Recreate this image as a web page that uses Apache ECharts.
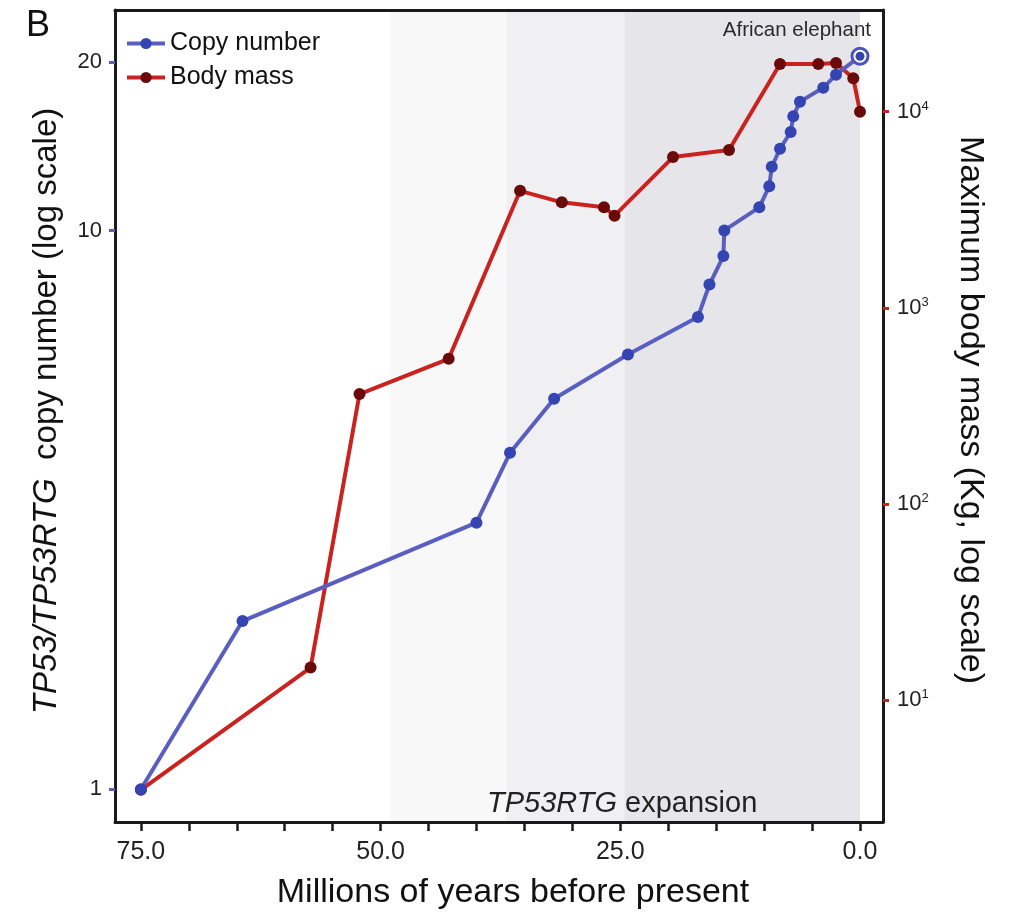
<!DOCTYPE html>
<html>
<head>
<meta charset="utf-8">
<script src="https://cdn.jsdelivr.net/npm/echarts@6/dist/echarts.min.js"></script>
<style>
html,body{margin:0;padding:0;background:#fff;}
#chart{width:1013px;height:922px;}
</style>
</head>
<body>
<div id="chart"></div>
<script>
// ---- data ----
var copyAge = [75, 64.4, 40.0, 36.5, 31.9, 24.2, 16.9, 15.7, 14.25, 14.15, 10.5, 9.46, 9.2, 8.34, 7.23, 6.96, 6.26, 3.83, 2.5, 0];
var copyNum = [1, 2, 3, 4, 5, 6, 7, 8, 9, 10, 11, 12, 13, 14, 15, 16, 17, 18, 19, 20.5];
var massAge = [75, 57.3, 52.2, 42.9, 35.45, 31.1, 26.7, 25.6, 19.5, 13.66, 8.34, 4.35, 2.5, 0.7, 0];
var massKg = [3.5, 14.7, 364, 550, 3950, 3450, 3260, 2950, 5870, 6380, 17500, 17500, 17700, 14800, 10000];
var bands = [[49.0, 36.85], [36.85, 24.58], [24.58, 0]];
var bandColors = ['#f8f8f9', '#f0f0f2', '#e6e6ea'];
var xTickValues = [0, 5, 10, 15, 20, 25, 30, 35, 40, 45, 50, 55, 60, 65, 70, 75];
var xLabelValues = [0, 25, 50, 75];
var leftTicks = [1, 10, 20];
var rightTicks = [10, 100, 1000, 10000];

var FONT = 'Liberation Sans, Arial, Helvetica, sans-serif';
var BLUE_LINE = '#5a5ec0', BLUE_DOT = '#3444b2';
var RED_LINE = '#c9221f', RED_DOT = '#6a0a0a';

function zip(a, b) { return a.map(function (v, i) { return [v, b[i]]; }); }
var last = copyAge.length - 1;

var chart = echarts.init(document.getElementById('chart'), null, {renderer: 'canvas'});
var option = {
  animation: false,
  backgroundColor: '#fff',
  textStyle: {fontFamily: FONT},
  grid: {left: 115, right: 130, top: 10, bottom: 100, containLabel: false},
  legend: {
    data: ['Copy number', 'Body mass'],
    orient: 'vertical', left: 120, top: 26,
    itemWidth: 38, itemHeight: 14, itemGap: 9,
    lineStyle: {width: 4},
    textStyle: {fontSize: 25, color: '#111', fontFamily: FONT}
  },
  xAxis: [{
    type: 'value', inverse: true, min: -2.4, max: 77.7, z: 10,
    name: 'Millions of years before present', nameLocation: 'middle', nameGap: 54,
    nameTextStyle: {fontSize: 34, color: '#111', fontFamily: FONT, padding: [0, 0, 0, 28]},
    axisLine: {show: true, onZero: false, lineStyle: {color: '#1a1a1a', width: 3}},
    axisTick: {show: true, customValues: xTickValues, length: 9, lineStyle: {color: '#1a1a1a', width: 2.5}},
    axisLabel: {customValues: xLabelValues, margin: 18, fontSize: 25, color: '#222', fontFamily: FONT,
      formatter: function (v) { return Number(v).toFixed(1); }},
    splitLine: {show: false}
  }, {
    type: 'value', position: 'top', min: -2.4, max: 77.7, inverse: true, z: 10,
    axisLine: {show: true, onZero: false, lineStyle: {color: '#1a1a1a', width: 3}},
    axisTick: {show: false}, axisLabel: {show: false}, splitLine: {show: false}
  }],
  yAxis: [{
    type: 'log', logBase: 10, min: 0.874, max: 24.8, position: 'left', z: 10,
    name: '{i|TP53/TP53RTG}  copy number (log scale)', nameLocation: 'middle', nameGap: 52, nameRotate: 90,
    nameTextStyle: {fontSize: 33, color: '#111', fontFamily: FONT, padding: [0, 0, 0, 10],
      rich: {i: {fontStyle: 'italic', fontSize: 33, color: '#111', fontFamily: FONT}}},
    axisLine: {show: true, onZero: false, lineStyle: {color: '#1a1a1a', width: 3}},
    axisTick: {show: true, customValues: leftTicks, length: 6, lineStyle: {color: BLUE_LINE, width: 3}},
    axisLabel: {customValues: leftTicks, margin: 13, fontSize: 22, color: '#222', fontFamily: FONT},
    splitLine: {show: false}
  }, {
    type: 'log', logBase: 10, min: 2.4, max: 32960, position: 'right', z: 10,
    name: 'Maximum body mass (Kg, log scale)', nameLocation: 'middle', nameGap: 70, nameRotate: -90,
    nameTextStyle: {fontSize: 34, color: '#111', fontFamily: FONT, padding: [0, 12, 0, 0]},
    axisLine: {show: true, onZero: false, lineStyle: {color: '#1a1a1a', width: 3}},
    axisTick: {show: true, customValues: rightTicks, length: 6, lineStyle: {color: RED_LINE, width: 3}},
    axisLabel: {customValues: rightTicks, margin: 14, color: '#222', fontFamily: FONT,
      formatter: function (v) { return '{b|10}{s|' + Math.round(Math.log10(v)) + '}'; },
      rich: {b: {fontSize: 22, color: '#222', fontFamily: FONT, lineHeight: 24},
             s: {fontSize: 13, color: '#222', fontFamily: FONT, verticalAlign: 'top', lineHeight: 14}}},
    splitLine: {show: false}
  }],
  graphic: [
    {type: 'text', left: 26, top: 8, z: 100, style: {text: 'B', font: '36px ' + FONT, fill: '#111'}},
    {type: 'text', left: 487, top: 789, z: 100, style: {
      text: '{i|TP53RTG} expansion', font: '29px ' + FONT, fill: '#222',
      rich: {i: {fontStyle: 'italic', fontSize: 29, fontFamily: FONT, fill: '#222'}}}}
  ],
  series: [
    {
      name: 'bands', type: 'line', data: [], z: 1, silent: true,
      markArea: {silent: true,
        data: bands.map(function (b, i) {
          return [{xAxis: b[0], itemStyle: {color: bandColors[i], opacity: 1}}, {xAxis: b[1]}];
        })}
    },
    {
      name: 'Body mass', type: 'line', yAxisIndex: 1, z: 3,
      data: zip(massAge, massKg),
      symbol: 'circle', symbolSize: 12, showSymbol: true,
      lineStyle: {color: RED_LINE, width: 4},
      itemStyle: {color: RED_DOT}
    },
    {
      name: 'Copy number', type: 'line', yAxisIndex: 0, z: 4,
      data: zip(copyAge, copyNum),
      symbol: 'circle', symbolSize: 12, showSymbol: true,
      lineStyle: {color: BLUE_LINE, width: 4},
      itemStyle: {color: BLUE_DOT}
    },
    {
      name: 'elephant ring', type: 'scatter', yAxisIndex: 0, z: 5, silent: true,
      data: [[copyAge[last], copyNum[last]]],
      symbol: 'circle', symbolSize: 16,
      itemStyle: {color: '#fff', borderColor: '#4a52bc', borderWidth: 3, opacity: 1},
      label: {show: true, formatter: 'African elephant', position: 'top', distance: 6,
        align: 'right', offset: [11, 0], fontSize: 20.5, color: '#2a2a2a', fontFamily: FONT}
    },
    {
      name: 'elephant dot', type: 'scatter', yAxisIndex: 0, z: 6, silent: true,
      data: [[copyAge[last], copyNum[last]]],
      symbol: 'circle', symbolSize: 9,
      itemStyle: {color: BLUE_DOT, opacity: 1}
    }
  ]
};
chart.setOption(option);
</script>
</body>
</html>
